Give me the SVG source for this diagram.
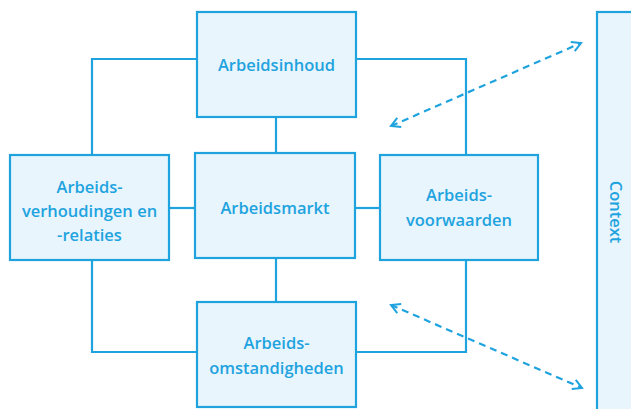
<svg xmlns="http://www.w3.org/2000/svg" width="631" height="409" viewBox="0 0 631 409">
<defs>
<style>
.box{fill:#e8f5fd;stroke:#1fa3df;stroke-width:2.2}
.ln{fill:none;stroke:#1fa3df;stroke-width:2.2}
.dash{fill:none;stroke:#1fa3df;stroke-width:2.2;stroke-dasharray:7 5}
.t{font-family:"Open Sans","Liberation Sans",sans-serif;font-size:16.5px;font-weight:600;fill:#1fa3df;text-anchor:middle}
</style>
<marker id="ah" viewBox="0 0 12 12" refX="10" refY="6" markerWidth="12" markerHeight="12" markerUnits="userSpaceOnUse" orient="auto-start-reverse">
<path d="M1,1 L10,6 L1,11" fill="none" stroke="#1fa3df" stroke-width="2"/>
</marker>
</defs>
<rect width="631" height="409" fill="#ffffff"/>
<g id="connectors">
<polyline class="ln" points="197,59 92,59 92,155"/>
<polyline class="ln" points="356,59 466,59 466,155"/>
<polyline class="ln" points="92,260 92,352 197,352"/>
<polyline class="ln" points="466,260 466,352 356,352"/>
<line class="ln" x1="276" y1="117" x2="276" y2="153"/>
<line class="ln" x1="276" y1="258" x2="276" y2="302"/>
<line class="ln" x1="169" y1="208" x2="195" y2="208"/>
<line class="ln" x1="355" y1="208" x2="380" y2="208"/>
<line class="dash" x1="391" y1="126" x2="581" y2="43" marker-start="url(#ah)" marker-end="url(#ah)"/>
<line class="dash" x1="391" y1="305" x2="582" y2="388" marker-start="url(#ah)" marker-end="url(#ah)"/>
</g>
<g id="context">
<rect class="box" x="597" y="12" width="40" height="405"/>
<text class="t" transform="translate(610,212) rotate(90)">Context</text>
</g>
<g id="inhoud">
<rect class="box" x="197" y="12" width="159" height="105"/>
<text class="t" x="276.5" y="71">Arbeidsinhoud</text>
</g>
<g id="verhoudingen">
<rect class="box" x="10" y="155" width="159" height="105"/>
<text class="t" x="89.5" y="193">Arbeids-</text>
<text class="t" x="89.5" y="217">verhoudingen en</text>
<text class="t" x="89.5" y="241">-relaties</text>
</g>
<g id="markt">
<rect class="box" x="195" y="153" width="160" height="105"/>
<text class="t" x="275" y="214">Arbeidsmarkt</text>
</g>
<g id="voorwaarden">
<rect class="box" x="380" y="155" width="158" height="105"/>
<text class="t" x="459" y="201">Arbeids-</text>
<text class="t" x="459" y="226">voorwaarden</text>
</g>
<g id="omstandigheden">
<rect class="box" x="197" y="302" width="159" height="105"/>
<text class="t" x="276.5" y="349">Arbeids-</text>
<text class="t" x="276.5" y="374">omstandigheden</text>
</g>
</svg>
